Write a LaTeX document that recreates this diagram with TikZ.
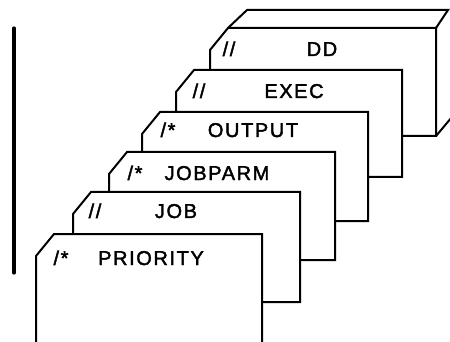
\documentclass[tikz,border=0pt]{standalone}
\usepackage{fontspec}
\setmainfont{Liberation Sans}
\begin{document}
\begin{tikzpicture}[x=1pt,y=-1pt,
  card/.style={draw=black,fill=white,line width=2pt,line join=miter},
  rim/.style={draw=black,line width=2pt,line join=miter},
  bar/.style={draw=black,line width=3.2pt,line cap=round},
  cardtext/.style={font=\fontsize{20}{22}\selectfont\addfontfeatures{LetterSpace=8,FakeBold=2},
    inner sep=0pt,anchor=base}]
  \useasboundingbox (0,0) rectangle (450,342);
  \clip (0,0) rectangle (450,342);

  % vertical rule on the left
  \coordinate (bartop) at (14,28);
  \coordinate (barbot) at (14,273);
  \draw[bar] (bartop) -- (barbot);

  % cards, drawn from the back of the deck to the front:
  % name / left / top / right / height / prefix / prefix x / label / label x / baseline
  \foreach \n/\l/\t/\r/\h/\p/\px/\lab/\lx/\b in {
      dd/210/28/436/108/{//}/229/DD/322/56,
      exec/176/70/402/107/{//}/199/EXEC/294/98,
      output/142/112/368/109/{/*}/168/OUTPUT/253/137,
      jobparm/109/152/335/108/{/*}/135/JOBPARM/217/180,
      job/73/192/300/110/{//}/95/JOB/176/218,
      priority/36/234/262/120/{/*}/61/PRIORITY/151/265}{
    \coordinate (\n-bl) at (\l,\t+\h);
    \coordinate (\n-cut) at (\l,\t+22);
    \coordinate (\n-tl) at (\l+18,\t);
    \coordinate (\n-tr) at (\r,\t);
    \coordinate (\n-br) at (\r,\t+\h);
    \path[card] (\n-bl) -- (\n-cut) -- (\n-tl) -- (\n-tr) -- (\n-br) -- cycle;
    \node[cardtext] (\n-op) at (\px,\b) {\p};
    \node[cardtext] (\n-name) at (\lx,\b) {\lab};
  }

  % top and side of the box holding the deck
  \coordinate (backtl) at (247,10);
  \coordinate (backtr) at (448,10);
  \coordinate (backbr) at (452,117);
  \draw[rim] (dd-tl) -- (backtl) -- (backtr) -- (dd-tr);
  \draw[rim] (dd-br) -- (backbr);
\end{tikzpicture}
\end{document}
